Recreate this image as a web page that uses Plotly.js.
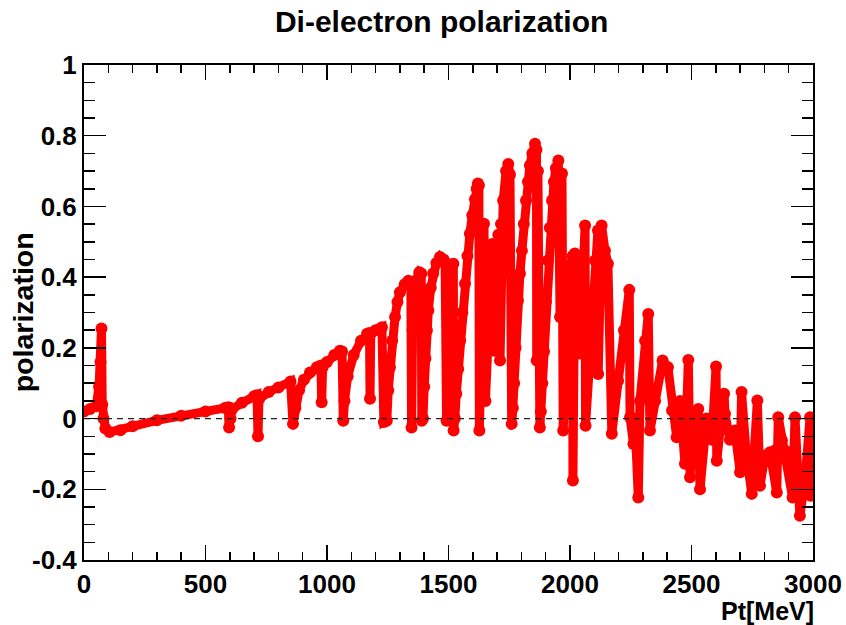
<!DOCTYPE html>
<html>
<head>
<meta charset="utf-8">
<script src="https://cdn.plot.ly/plotly-3.0.1.min.js"></script>
<style>html,body{margin:0;padding:0;background:#fff;}#chart{width:846px;height:625px;}</style>
</head>
<body>
<div id="chart"></div>
<script>
// Pt [MeV] values
const ptValues = [
  0, 25, 50, 62, 68, 72, 75, 80, 88, 105, 150, 200, 300, 400, 500, 580, 594, 597, 603, 608,
  650, 700, 712, 716, 720, 760, 800, 850, 860, 870, 885, 905, 930, 958, 975, 978, 982, 1000,
  1030, 1053, 1062, 1067, 1072, 1085, 1110, 1140, 1165, 1175, 1177, 1180, 1200, 1218, 1226, 1234,
  1246, 1252, 1259, 1268, 1280, 1290, 1300, 1320, 1335, 1345, 1348, 1352, 1365, 1380, 1388, 1390,
  1395, 1400, 1405, 1411, 1417, 1427, 1437, 1450, 1465, 1480, 1486, 1492, 1500, 1512, 1520, 1521,
  1526, 1532, 1540, 1548, 1557, 1568, 1578, 1588, 1598, 1609, 1616, 1621, 1625,
  1627, 1635, 1646, 1652, 1665, 1680, 1688, 1700, 1705, 1712, 1716, 1725, 1737, 1746, 1753, 1760,
  1765, 1770, 1776, 1786, 1794, 1802, 1810, 1819, 1827, 1835, 1845, 1856, 1862, 1863, 1868, 1876,
  1880, 1886, 1893, 1901, 1909, 1917, 1926, 1934, 1942, 1952,
  1959, 1967, 1972, 1984, 2000, 2011, 2012, 2020, 2041, 2062, 2064, 2083, 2103, 2115, 2116, 2130,
  2144, 2156, 2172, 2198, 2222, 2244, 2247, 2261, 2267, 2281, 2288, 2309, 2322, 2329, 2350, 2381,
  2403, 2420, 2439, 2453, 2473, 2487, 2494, 2506, 2528, 2535, 2562, 2584, 2601, 2604, 2617, 2634,
  2638, 2658, 2679, 2700, 2706, 2724, 2748, 2771, 2782, 2802, 2823, 2851, 2857, 2872, 2885, 2916,
  2926, 2938, 2946, 2967, 2988, 2990, 3000
];
// polarization values
const polValues = [
  0.02, 0.027, 0.035, 0.09, 0.16, 0.255, 0.04, 0.0, -0.028, -0.038, -0.033, -0.022, -0.005, 0.008, 0.02, 0.03, 0.032, -0.025, 0.0, 0.025,
  0.045, 0.063, 0.066, -0.05, 0.055, 0.075, 0.088, 0.105, -0.015, 0.03, 0.08, 0.11, 0.13, 0.145, 0.15, 0.046, 0.145, 0.16,
  0.18, 0.192, 0.19, -0.006, 0.05, 0.12, 0.18, 0.22, 0.24, 0.242, 0.056, 0.24, 0.25, 0.254, 0.258, -0.01,
  -0.006, 0.08, 0.145, 0.22, 0.287, 0.33, 0.357, 0.38, 0.39, 0.385, -0.025, 0.25, 0.39, 0.414, 0.41, -0.006,
  0.0, 0.09, 0.17, 0.25, 0.306, 0.37, 0.41, 0.44, 0.457, 0.45, 0.442, -0.006, 0.3, 0.43, 0.438, -0.034,
  0.0, 0.07, 0.14, 0.22, 0.3, 0.381, 0.46, 0.523, 0.575, 0.62, 0.65, 0.665, 0.66,
  -0.034, 0.3, 0.551, 0.05, 0.3, 0.494, 0.192, 0.45, 0.52, 0.164, 0.55, 0.617, 0.70, 0.72, 0.69, -0.015,
  0.03, 0.1, 0.2, 0.334, 0.41, 0.475, 0.55, 0.617, 0.67, 0.716, 0.75, 0.777, 0.76, 0.164, 0.70, -0.025,
  0.02, 0.1, 0.19, 0.33, 0.447, 0.54, 0.617, 0.67, 0.708, 0.73,
  0.287, 0.693, -0.034, 0.25, 0.428, 0.46, -0.175, 0.467, 0.184, 0.546, -0.02, 0.19, 0.447, 0.532, 0.126, 0.546,
  0.475, 0.438, -0.043, 0.107, 0.25, 0.364, 0.004, -0.072, 0.0, -0.223, 0.05, 0.22, 0.296, -0.034, 0.05, 0.164,
  0.145, 0.023, -0.053, 0.05, -0.128, 0.166, -0.166, -0.006, 0.027, -0.2, 0.0, -0.06, 0.147, -0.119, -0.034, 0.07,
  0.013, -0.06, -0.034, -0.152, 0.075, -0.09, -0.213, 0.051, -0.19, -0.105, -0.095, -0.209, 0.004, -0.062, -0.09, -0.223,
  0.004, -0.147, -0.275, -0.175, 0.004, -0.218, -0.12
];
const xTickVals = [0, 500, 1000, 1500, 2000, 2500, 3000];
const xTickText = ['0', '500', '1000', '1500', '2000', '2500', '3000'];
const yTickVals = [-0.4, -0.2, 0, 0.2, 0.4, 0.6, 0.8, 1];
const yTickText = ['-0.4', '-0.2', '0', '0.2', '0.4', '0.6', '0.8', '1'];
const zeroLineX = [0, 3000];
const zeroLineY = [0, 0];

const FONT = 'Liberation Sans, Arial, Helvetica, sans-serif';

const traces = [
  {
    x: ptValues, y: polValues, type: 'scatter', mode: 'lines+markers',
    line: {color: '#ff0000', width: 9},
    marker: {color: '#ff0000', size: 12},
    hoverinfo: 'x+y', showlegend: false
  },
  {
    x: zeroLineX, y: zeroLineY, type: 'scatter', mode: 'lines',
    line: {color: '#222222', width: 1.2, dash: '6px,5px'},
    hoverinfo: 'skip', showlegend: false
  }
];

const axisCommon = {
  showgrid: false, zeroline: false, showline: true, linecolor: '#000', linewidth: 2,
  mirror: 'allticks', ticks: 'inside', tickcolor: '#000', tickwidth: 1.5,
  tickfont: {family: FONT, size: 26, color: '#000', weight: 'bold'},
  tickmode: 'array'
};

const layout = {
  width: 846, height: 625,
  margin: {l: 84, r: 33, t: 65, b: 65},
  paper_bgcolor: '#fff', plot_bgcolor: '#fff',
  title: {
    text: 'Di-electron polarization',
    font: {family: FONT, size: 30, color: '#000', weight: 'bold'},
    xref: 'container', x: 0.522, xanchor: 'center',
    yref: 'container', y: 0.965, yanchor: 'middle'
  },
  xaxis: Object.assign({}, axisCommon, {
    range: [0, 3000], tickvals: xTickVals, ticktext: xTickText, ticklen: 15,
    minor: {dtick: 100, tick0: 0, ticklen: 8, ticks: 'inside', tickcolor: '#000', tickwidth: 1.5, showgrid: false}
  }),
  yaxis: Object.assign({}, axisCommon, {
    range: [-0.4, 1], tickvals: yTickVals, ticktext: yTickText, ticklen: 22,
    minor: {dtick: 0.05, tick0: 0, ticklen: 11, ticks: 'inside', tickcolor: '#000', tickwidth: 1.5, showgrid: false}
  }),
  annotations: [
    {
      text: 'Pt[MeV]', xref: 'paper', yref: 'paper', x: 1.004, y: -0.103,
      xanchor: 'right', yanchor: 'middle', showarrow: false,
      font: {family: FONT, size: 25, color: '#000', weight: 'bold'}
    },
    {
      text: 'polarization', xref: 'paper', yref: 'paper', x: -0.084, y: 0.5,
      xanchor: 'center', yanchor: 'middle', showarrow: false, textangle: -90,
      font: {family: FONT, size: 28.5, color: '#000', weight: 'bold'}
    }
  ]
};

Plotly.newPlot('chart', traces, layout, {displayModeBar: false, staticPlot: true});
</script>
</body>
</html>
